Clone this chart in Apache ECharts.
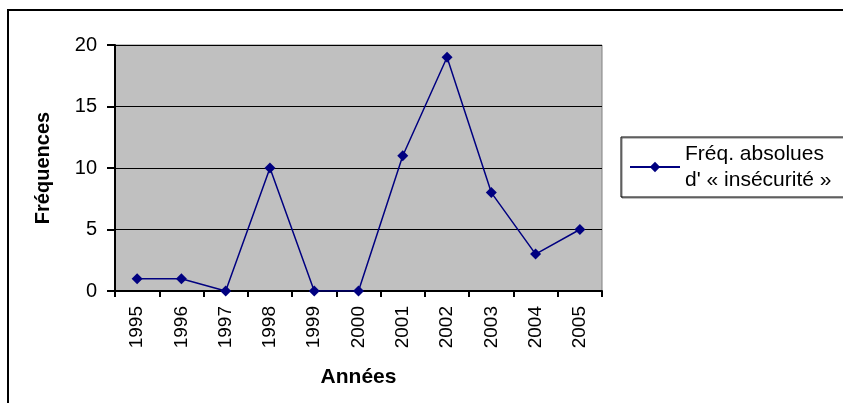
<!DOCTYPE html>
<html>
<head>
<meta charset="utf-8">
<script src="https://cdn.jsdelivr.net/npm/echarts@6/dist/echarts.min.js"></script>
<style>
  html, body { margin: 0; padding: 0; background: #fff; }
  #chart-container { width: 843px; height: 403px; }
</style>
</head>
<body>
<div id="chart-container"></div>
<script>
var dom = document.getElementById("chart-container");
var myChart = echarts.init(dom, null, { renderer: "canvas" });

const years = ["1995", "1996", "1997", "1998", "1999", "2000", "2001", "2002", "2003", "2004", "2005"];
const frequencies = [1, 1, 0, 10, 0, 0, 11, 19, 8, 3, 5];
const seriesName = "Fréq. absolues\nd' « insécurité »";

const font = "Arial, 'Liberation Sans', sans-serif";

var option = {
  animation: false,
  backgroundColor: "#fff",
  graphic: [
    {
      type: "rect",
      shape: { x: 8, y: 10, width: 900, height: 500 },
      style: { fill: "none", stroke: "#000", lineWidth: 2 },
      z: 0
    }
  ],
  grid: {
    left: 115,
    top: 45,
    right: 241,
    bottom: 112,
    show: true,
    backgroundColor: "#c0c0c0",
    borderColor: "#808080",
    borderWidth: 1
  },
  legend: {
    data: [seriesName],
    left: 621,
    top: 137,
    width: 300,
    borderColor: "#000",
    borderWidth: 1,
    padding: [4, 40, 4, 8],
    itemWidth: 50,
    itemHeight: 13,
    textStyle: { fontFamily: font, fontSize: 21, color: "#000", lineHeight: 26 },
    shadowColor: "rgba(0,0,0,0.5)",
    shadowOffsetX: 1,
    shadowOffsetY: 1
  },
  xAxis: {
    type: "category",
    data: years,
    boundaryGap: true,
    name: "Années",
    nameLocation: "middle",
    nameGap: 76,
    nameTextStyle: { fontFamily: font, fontSize: 21, fontWeight: "bold", color: "#000" },
    axisLine: { lineStyle: { color: "#000", width: 2 } },
    axisTick: { show: true, length: 6, lineStyle: { color: "#000", width: 2 } },
    axisLabel: { rotate: 90, margin: 15, fontFamily: font, fontSize: 19, color: "#000", interval: 0 }
  },
  yAxis: {
    type: "value",
    min: 0,
    max: 20,
    interval: 5,
    name: "Fréquences",
    nameLocation: "middle",
    nameGap: 62,
    nameTextStyle: { fontFamily: font, fontSize: 20, fontWeight: "bold", color: "#000" },
    axisLine: { show: true, lineStyle: { color: "#000", width: 2 } },
    axisTick: { show: true, length: 8, lineStyle: { color: "#000", width: 2 } },
    axisLabel: { margin: 18, fontFamily: font, fontSize: 20, color: "#000" },
    splitLine: { show: true, lineStyle: { color: "#000", width: 1 } }
  },
  series: [
    {
      name: seriesName,
      type: "line",
      data: frequencies,
      symbol: "diamond",
      symbolSize: 11,
      lineStyle: { color: "#000080", width: 1.5 },
      itemStyle: { color: "#000080" }
    }
  ]
};

myChart.setOption(option);
window.addEventListener("resize", myChart.resize);
</script>
</body>
</html>
